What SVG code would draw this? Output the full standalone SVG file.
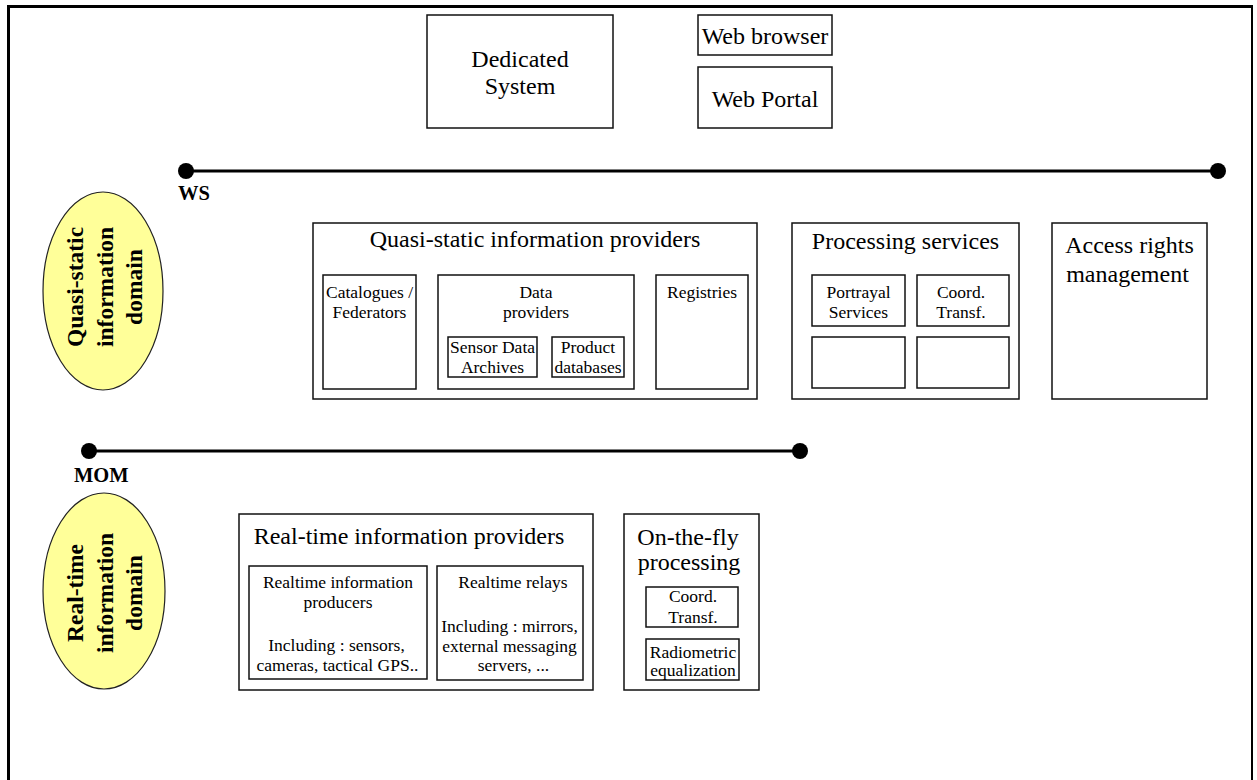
<svg xmlns="http://www.w3.org/2000/svg" width="1257" height="780" viewBox="0 0 1257 780">
<defs>
<marker id="dot" markerUnits="userSpaceOnUse" markerWidth="18" markerHeight="18" refX="9" refY="9" orient="auto">
<circle cx="9" cy="9" r="8" fill="#000"/>
</marker>
<style>
.box{fill:#fff;stroke:#111;stroke-width:1.5}
.ell{fill:#ffff99;stroke:#222;stroke-width:1.2}
.big{font-size:24px;fill:#000;text-anchor:middle}
.sm{font-size:17.5px;fill:#000;text-anchor:middle}
.et{font-size:23.5px;font-weight:bold;fill:#000;text-anchor:middle}
.bl{font-size:20.5px;font-weight:bold;fill:#000}
.bus{stroke:#000;stroke-width:3;fill:none;marker-start:url(#dot);marker-end:url(#dot)}
.frame{stroke:#000;fill:none}
</style>
</defs>
<rect width="1257" height="780" fill="#fff"/>
<g id="frame">
<path class="frame" stroke-width="3" d="M8.5,780 V6.5 H1252"/>
<line class="frame" stroke-width="2" x1="1252" y1="5" x2="1252" y2="780"/>
</g>
<g font-family="'Liberation Serif', 'DejaVu Serif', serif">
<g id="connectors">
<line class="bus" x1="186" y1="171" x2="1218" y2="171"/>
<line class="bus" x1="89" y1="451" x2="800" y2="451"/>
<text class="bl" x="178" y="200">WS</text>
<text class="bl" x="74" y="482">MOM</text>
</g>
<g id="dedicated-system">
<rect class="box" x="427" y="15" width="186" height="113"/>
<text class="big" x="520" y="67">Dedicated</text>
<text class="big" x="520" y="94">System</text>
</g>
<g id="web-browser">
<rect class="box" x="698" y="15" width="134" height="40"/>
<text class="big" x="765" y="44">Web browser</text>
</g>
<g id="web-portal">
<rect class="box" x="698" y="67" width="134" height="61"/>
<text class="big" x="765" y="107">Web Portal</text>
</g>
<g id="quasi-static-domain">
<ellipse class="ell" cx="103" cy="291" rx="60" ry="99"/>
<g transform="translate(104,287) rotate(-90)">
<text class="et" x="0" y="-21">Quasi-static</text>
<text class="et" x="0" y="9">information</text>
<text class="et" x="0" y="38">domain</text>
</g>
</g>
<g id="real-time-domain">
<ellipse class="ell" cx="104" cy="591" rx="61" ry="98"/>
<g transform="translate(104,593) rotate(-90)">
<text class="et" x="0" y="-21">Real-time</text>
<text class="et" x="0" y="9">information</text>
<text class="et" x="0" y="38">domain</text>
</g>
</g>
<g id="quasi-static-providers">
<rect class="box" x="313" y="223" width="444" height="176"/>
<text class="big" x="535" y="247">Quasi-static information providers</text>
</g>
<g id="catalogues">
<rect class="box" x="323" y="275" width="93" height="114"/>
<text class="sm" x="369.5" y="298">Catalogues /</text>
<text class="sm" x="369.5" y="318">Federators</text>
</g>
<g id="data-providers">
<rect class="box" x="438" y="275" width="196" height="114"/>
<text class="sm" x="536" y="298">Data</text>
<text class="sm" x="536" y="318">providers</text>
</g>
<g id="sensor-data-archives">
<rect class="box" x="448" y="337" width="89" height="40"/>
<text class="sm" x="492.5" y="353">Sensor Data</text>
<text class="sm" x="492.5" y="373">Archives</text>
</g>
<g id="product-databases">
<rect class="box" x="552" y="337" width="72" height="40"/>
<text class="sm" x="588" y="353">Product</text>
<text class="sm" x="588" y="373">databases</text>
</g>
<g id="registries">
<rect class="box" x="656" y="275" width="92" height="114"/>
<text class="sm" x="702" y="298">Registries</text>
</g>
<g id="processing-services">
<rect class="box" x="792" y="223" width="227" height="176"/>
<text class="big" x="905.5" y="249">Processing services</text>
</g>
<g id="portrayal-services">
<rect class="box" x="812" y="275" width="93" height="51"/>
<text class="sm" x="858.5" y="298">Portrayal</text>
<text class="sm" x="858.5" y="318">Services</text>
</g>
<g id="coord-transf-1">
<rect class="box" x="917" y="275" width="92" height="51"/>
<text class="sm" x="961" y="298">Coord.</text>
<text class="sm" x="961" y="318">Transf.</text>
</g>
<g id="empty-service-1">
<rect class="box" x="812" y="337" width="93" height="51"/>
</g>
<g id="empty-service-2">
<rect class="box" x="917" y="337" width="92" height="51"/>
</g>
<g id="access-rights">
<rect class="box" x="1052" y="223" width="155" height="176"/>
<text class="big" x="1129.5" y="253">Access rights</text>
<text class="big" x="1127.5" y="282">management</text>
</g>
<g id="real-time-providers">
<rect class="box" x="239" y="514" width="354" height="176"/>
<text class="big" x="409" y="544">Real-time information providers</text>
</g>
<g id="realtime-producers">
<rect class="box" x="249" y="566" width="178" height="113"/>
<text class="sm" x="338" y="588">Realtime information</text>
<text class="sm" x="338" y="608">producers</text>
<text class="sm" x="336.5" y="651">Including : sensors,</text>
<text class="sm" x="337.5" y="671">cameras, tactical GPS..</text>
</g>
<g id="realtime-relays">
<rect class="box" x="437" y="566" width="146" height="114"/>
<text class="sm" x="513" y="588">Realtime relays</text>
<text class="sm" x="509.5" y="632">Including : mirrors,</text>
<text class="sm" x="509.5" y="652">external messaging</text>
<text class="sm" x="513.5" y="671">servers, ...</text>
</g>
<g id="on-the-fly">
<rect class="box" x="624" y="514" width="135" height="176"/>
<text class="big" x="688" y="545">On-the-fly</text>
<text class="big" x="689" y="570">processing</text>
</g>
<g id="coord-transf-2">
<rect class="box" x="646" y="587" width="92" height="40"/>
<text class="sm" x="693" y="602">Coord.</text>
<text class="sm" x="693" y="623">Transf.</text>
</g>
<g id="radiometric">
<rect class="box" x="646" y="639" width="93" height="41"/>
<text class="sm" x="693" y="658">Radiometric</text>
<text class="sm" x="693" y="676">equalization</text>
</g>
</g>
</svg>
